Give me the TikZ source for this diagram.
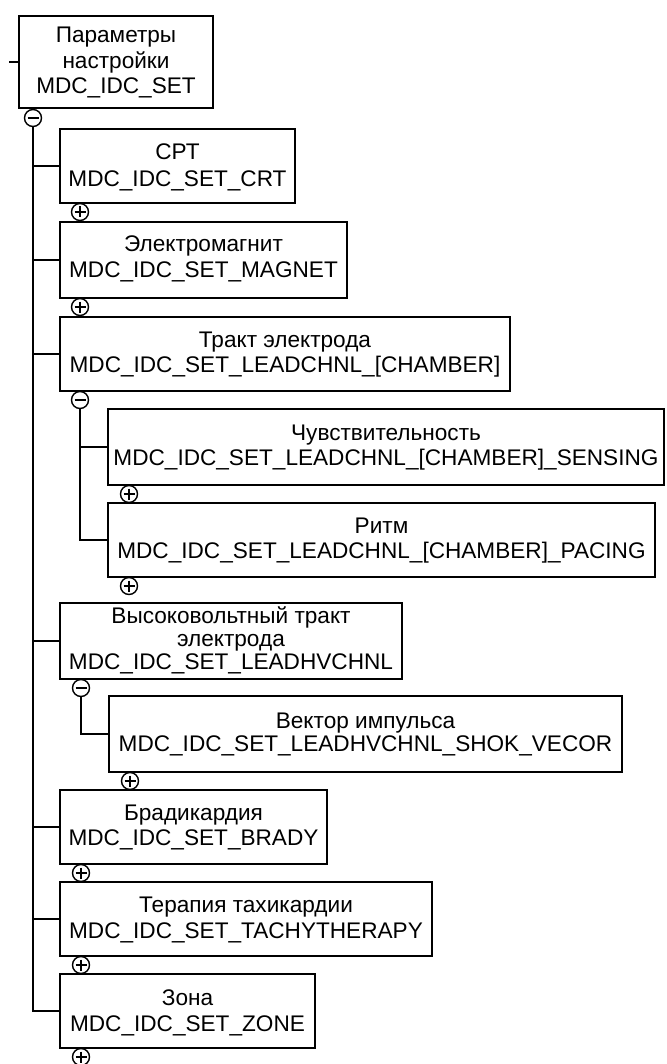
\documentclass[tikz,border=0pt]{standalone}
\usepackage{fontspec}
\setmainfont{Liberation Sans}
\usetikzlibrary{calc}
\tikzset{
  box/.style={draw, line width=1.8pt, inner sep=0pt, outer sep=0pt},
  lbl/.style={anchor=base, inner sep=0pt, outer sep=0pt, font=\fontsize{22.6}{26}\selectfont},
  conn/.style={line width=2pt},
  sgn/.style={circle, draw, line width=1.4pt, minimum size=17pt, inner sep=0pt, outer sep=0pt, fill=white},
  sig/.style={line width=1.4pt},
}
\newcommand\bx[5]{\node[box, minimum width={#4pt-#2pt}, minimum height={#5pt-#3pt}] (#1) at ({(#2+#4)/2},{(#3+#5)/2}) {};}
\newcommand\tmarkminus[1]{\draw[sig] ($(#1.center)+(-5.5,0)$) -- ($(#1.center)+(5.5,0)$);}
\newcommand\tmarkplus[1]{\tmarkminus{#1}\draw[sig] ($(#1.center)+(0,-5.5)$) -- ($(#1.center)+(0,5.5)$);}
\begin{document}
\begin{tikzpicture}[x=1pt,y=-1pt]
\useasboundingbox (0,0) rectangle (666,1064);
% boxes
\bx{root}{19}{16}{213}{108}
\bx{crt}{60}{129}{295}{203}
\bx{magnet}{60}{222}{347}{298}
\bx{lead}{60}{317}{510}{391}
\bx{sens}{108}{409}{664}{485}
\bx{pacing}{108}{503}{655}{577}
\bx{hv}{60}{603}{402}{679}
\bx{vec}{109}{696}{622}{772}
\bx{brady}{60}{790}{327}{864}
\bx{tachy}{60}{882}{432}{956}
\bx{zone}{60}{974}{315}{1048}
% texts
\node[lbl] (t1) at (116,43) {Параметры};
\node[lbl] (t2) at (116,69) {настройки};
\node[lbl] (t3) at (116,94) {MDC\_IDC\_SET};
\node[lbl] (t4) at (177.5,160) {СРТ};
\node[lbl] (t5) at (177.5,187) {MDC\_IDC\_SET\_CRT};
\node[lbl] (t6) at (203.5,252) {Электромагнит};
\node[lbl] (t7) at (203.5,278) {MDC\_IDC\_SET\_MAGNET};
\node[lbl] (t8) at (285,347) {Тракт электрода};
\node[lbl] (t9) at (285,372) {MDC\_IDC\_SET\_LEADCHNL\_[CHAMBER]};
\node[lbl] (t10) at (386,440) {Чувствительность};
\node[lbl] (t11) at (386,465) {MDC\_IDC\_SET\_LEADCHNL\_[CHAMBER]\_SENSING};
\node[lbl] (t12) at (381.5,533) {Ритм};
\node[lbl] (t13) at (381.5,558) {MDC\_IDC\_SET\_LEADCHNL\_[CHAMBER]\_PACING};
\node[lbl] (t14) at (231,623) {Высоковольтный тракт};
\node[lbl] (t15) at (231,646) {электрода};
\node[lbl] (t16) at (231,669) {MDC\_IDC\_SET\_LEADHVCHNL};
\node[lbl] (t17) at (365.5,728) {Вектор импульса};
\node[lbl] (t18) at (365.5,751) {MDC\_IDC\_SET\_LEADHVCHNL\_SHOK\_VECOR};
\node[lbl] (t19) at (193.5,820) {Брадикардия};
\node[lbl] (t20) at (193.5,845) {MDC\_IDC\_SET\_BRADY};
\node[lbl] (t21) at (246,912) {Терапия тахикардии};
\node[lbl] (t22) at (246,938) {MDC\_IDC\_SET\_TACHYTHERAPY};
\node[lbl] (t23) at (187.5,1005) {Зона};
\node[lbl] (t24) at (187.5,1031) {MDC\_IDC\_SET\_ZONE};
% signs
\node[sgn] (m0) at (33,118) {};
\node[sgn] (p1) at (80,212) {};
\node[sgn] (p2) at (80,307) {};
\node[sgn] (m1) at (80,400) {};
\node[sgn] (p3) at (129,494) {};
\node[sgn] (p4) at (129,586) {};
\node[sgn] (m2) at (81,688) {};
\node[sgn] (p5) at (130,781) {};
\node[sgn] (p6) at (81,873) {};
\node[sgn] (p7) at (81,965) {};
\node[sgn] (p8) at (81,1057) {};
\tmarkminus{m0}\tmarkminus{m1}\tmarkminus{m2}
\tmarkplus{p1}\tmarkplus{p2}\tmarkplus{p3}\tmarkplus{p4}
\tmarkplus{p5}\tmarkplus{p6}\tmarkplus{p7}\tmarkplus{p8}
% connectors
\coordinate (stub) at (9,62);
\draw[conn] (stub) -- (root.west);
\draw[conn] (m0.south) -- (m0.south |- zone.west) -- (zone.west);
\foreach \b in {crt,magnet,lead,hv,brady,tachy}
  \draw[conn] (m0.south |- \b.west) -- (\b.west);
\draw[conn] (m1.south) -- (m1.south |- pacing.west) -- (pacing.west);
\draw[conn] (m1.south |- sens.west) -- (sens.west);
\draw[conn] (m2.south) -- (m2.south |- vec.west) -- (vec.west);
\end{tikzpicture}
\end{document}
